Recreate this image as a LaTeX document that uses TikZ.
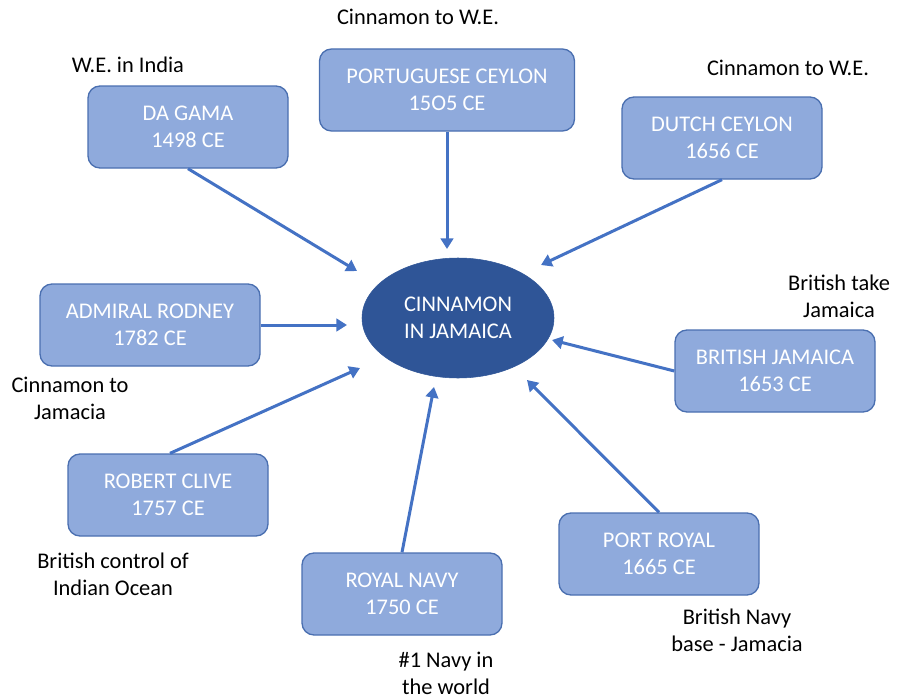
\documentclass[tikz,border=0pt]{standalone}
\usepackage{fontspec}
\setmainfont{Carlito}
\usetikzlibrary{shapes.geometric,arrows.meta}
\definecolor{boxfill}{HTML}{8FAADC}
\definecolor{boxline}{HTML}{4A6FB0}
\definecolor{ellfill}{HTML}{2F5597}
\definecolor{arrowc}{HTML}{4472C4}
\tikzset{
  evbox/.style={draw=boxline, line width=1pt, fill=boxfill, rounded corners=9pt,
    text=white, align=center, minimum width=150pt, minimum height=61.5pt,
    font=\fontsize{16.8}{20.25}\selectfont, inner sep=2pt},
  hub/.style={ellipse, draw=ellfill, fill=ellfill, text=white, align=center,
    minimum width=144pt, minimum height=90pt, inner sep=0pt,
    font=\fontsize{16.8}{20.25}\selectfont},
  note/.style={align=center, font=\fontsize{16.8}{20.25}\selectfont, text=black},
  conn/.style={draw=arrowc, line width=2.25pt, -{Triangle[length=8pt,width=9.5pt]}}
}
\begin{document}
\begin{tikzpicture}[x=0.75pt, y=-0.75pt]
\useasboundingbox (0,0) rectangle (902,699);
\node[hub] (hub) at (458,318) {CINNAMON\\IN JAMAICA};
\node[evbox] (dagama) at (188,127) {DA GAMA\\1498 CE};
\node[evbox, minimum width=191.25pt] (port) at (447,90) {PORTUGUESE CEYLON\\15O5 CE};
\node[evbox] (dutch) at (722,138) {DUTCH CEYLON\\1656 CE};
\node[evbox, minimum width=165pt] (rodney) at (150,325) {ADMIRAL RODNEY\\1782 CE};
\node[evbox] (bjam) at (775,371) {BRITISH JAMAICA\\1653 CE};
\node[evbox] (clive) at (168,495) {ROBERT CLIVE\\1757 CE};
\node[evbox] (navy) at (402,594) {ROYAL NAVY\\1750 CE};
\node[evbox] (proyal) at (659,554) {PORT ROYAL\\1665 CE};

\node[note] (n1) at (128,65) {W.E. in India};
\node[note] (n2) at (418,17) {Cinnamon to W.E.};
\node[note] (n3) at (788,68) {Cinnamon to W.E.};
\node[note] (n4) at (839,296) {British take\\Jamaica};
\node[note] (n5) at (70,398) {Cinnamon to\\Jamacia};
\node[note] (n6) at (113,574) {British control of\\Indian Ocean};
\node[note] (n7) at (737,630) {British Navy\\base - Jamacia};
\node[note] (n8) at (446,673) {\#1 Navy in\\the world};

\coordinate (e1) at (357,271);
\coordinate (e2) at (447,249);
\coordinate (e3) at (541,265);
\coordinate (e4) at (347,325);
\coordinate (e5) at (552,340);
\coordinate (e6) at (360,368);
\coordinate (e7) at (434,387);
\coordinate (e8) at (527,380);

\draw[conn] (dagama.south) -- (e1);
\draw[conn] (port.south) -- (e2);
\draw[conn] (dutch.south) -- (e3);
\draw[conn] (rodney.east) -- (e4);
\draw[conn] (bjam.west) -- (e5);
\draw[conn] ([xshift=1.5pt]clive.north) -- (e6);
\draw[conn] (navy.north) -- (e7);
\draw[conn] (proyal.north) -- (e8);
\end{tikzpicture}
\end{document}
